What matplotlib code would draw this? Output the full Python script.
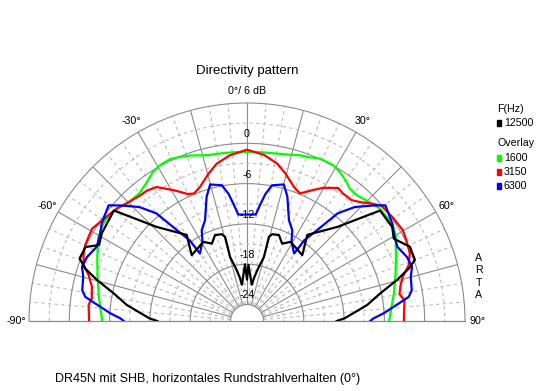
import numpy as np
import matplotlib.pyplot as plt
from matplotlib.patches import Rectangle

plt.rcParams['font.family'] = ['Liberation Sans', 'DejaVu Sans']

# angle (deg) / level (dB)
green_ang = [-90, -80.7, -73.5, -66.8, -60.4, -55.8, -51.8, -48.4, -45, -40.2,
             -36.3, -32.2, -29.2, -25.3, -22, -19, -13.1, -8, -4, 0,
             4, 8, 13, 17.7, 20.5, 24.2, 28.9, 31.9, 35.6, 37.8,
             41, 44.7, 49.7, 54, 56.1, 60, 67.8, 73.4, 79.3, 90]
green_db = [-4.9, -4.1, -3.25, -2.2, -1.05, -0.6, -0.55, -1.0, -1.5, -1.6,
            -1.05, -0.2, 0.1, 0.25, -0.1, -0.4, -1.1, -1.2, -1.25, -1.3,
            -1.25, -1.2, -1.0, -0.55, -0.4, 0.05, 0.05, -0.3, -1.0, -1.5,
            -1.6, -1.2, -0.55, -0.5, -0.4, -0.9, -2.5, -3.4, -4.2, -5.3]

red_ang = [-90, -84.2, -81.7, -77.5, -73.8, -71.1, -68, -64.9, -62, -59.2,
           -56, -52.6, -49.1, -45.6, -40.6, -37.3, -34, -29.2, -27.1, -25,
           -22.5, -19.3, -14.7, -10.9, -5.9, 0, 5.9, 10.9, 14.7, 19.3,
           22.5, 26.8, 29.8, 34.4, 37, 40.9, 44, 46.6, 49.3, 54.4,
           59.7, 63, 67.4, 71, 74, 77, 80, 82.5, 86, 90]
red_db = [-2.95, -2.75, -3.1, -2.8, -1.9, -0.75, -0.2, 0.15, 0.25, 0.4,
          -0.1, -0.5, -0.85, -1.4, -1.9, -2.0, -2.4, -4.15, -4.9, -5.6,
          -5.9, -5.3, -3.8, -2.6, -1.65, -0.95, -1.6, -2.6, -3.8, -5.3,
          -5.9, -4.6, -3.6, -2.45, -2.7, -2.65, -1.9, -1.0, -0.1, 0.15,
          0.4, 0.15, -0.2, -1.0, -2.3, -3.0, -3.4, -2.8, -3.0, -3.1]

blue_ang = [-90, -88.8, -86.8, -83.4, -81.5, -79.4, -74.9, -71.8, -68.2, -63.7,
            -59.2, -56.1, -50.1, -47.5, -43.4, -40.1, -37.7, -35.4, -34.9, -29.3,
            -26.5, -22.6, -18, -15.1, -10.5, -8.3, -6.6, -4.7, 0,
            4.7, 6.6, 8.3, 10.5, 15.1, 18, 22.6, 26.5, 29.3, 34.9,
            35.4, 37.7, 40.1, 43.4, 47.5, 50.1, 56.1, 59.2, 63.7, 68.2,
            71.8, 74.9, 79.4, 81.5, 83.4, 86.8, 88.8, 90]
blue_db = [-8.1, -7.6, -6.1, -3.7, -2.1, -1.5, -1.2, -0.6, -0.8, -1.5,
           -1.0, -0.4, 0.4, -1.0, -3.1, -5.5, -9.3, -11.7, -14.2, -12.9,
           -11.35, -10.2, -7.0, -5.4, -5.9, -7.3, -8.9, -10.55, -10.6,
           -10.55, -8.9, -7.3, -5.9, -5.4, -7.0, -10.2, -11.35, -12.9, -14.2,
           -11.7, -9.3, -5.5, -3.1, -1.0, 0.4, -0.4, -1.0, -1.5, -0.8,
           -0.6, -1.2, -1.5, -2.1, -3.7, -6.1, -7.6, -8.1]

black_ang = [-90, -88.4, -82.4, -78.3, -74.7, -72, -69.5, -65.4, -62.8, -58.9,
             -50.3, -46.9, -43.9, -35, -40, -28.9, -24.4, -20.4, -16.2, -14.6,
             -14.8, -12.4, -9.5, -8, -2, 0, 1.5, 7.5, 9.5, 12.4,
             14.8, 14.6, 16.2, 20.4, 24.4, 28.9, 40, 35, 43.9, 46.9,
             50.3, 57.1, 60.7, 65.5, 70, 72, 74.7, 78.3, 82.4, 88.4, 90]
black_db = [-13.1, -11.9, -8.4, -6.2, -3.3, -1.1, 0.15, 0.0, -1.7, -1.2,
            -0.7, -4.5, -7.0, -10.8, -13.65, -13.0, -13.8, -12.8, -13.0, -13.5,
            -16.6, -18.2, -19.8, -21.0, -18.0, -20.3, -18.1, -21.0, -19.8, -18.2,
            -16.6, -13.5, -13.0, -12.8, -13.8, -13.0, -13.65, -10.8, -7.0, -4.5,
            -0.7, -0.7, -1.4, 0.2, 0.15, -1.1, -3.3, -6.2, -8.4, -11.9, -13.1]

overlay_names = ['1600', '3150', '6300']
overlay_colors = ['#00ff00', '#ff0000', '#0000ff']
main_name = '12500'
main_color = '#000000'

r_levels = [0, -6, -12, -18, -24]
theta_labels = {-90: '-90°', -60: '-60°', -30: '-30°', 0: '0°/ 6 dB',
                30: '30°', 60: '60°', 90: '90°'}

W, H = 544, 391
fig = plt.figure(figsize=(W / 100, H / 100), dpi=100)
# half disc sits in the middle half of a square axes box (matplotlib keeps the wedge square)
ax = fig.add_axes([29 / W, -39 / H, 436 / W, 436 / H], projection='polar')
ax.set_theta_zero_location('N')
ax.set_theta_direction(-1)
ax.set_thetamin(-90)
ax.set_thetamax(90)
ax.set_rlim(-24, 6)
ax.set_rorigin(-26.45)

solid = '#8c8c8c'
dash = '#bdbdbd'
ax.set_xticks(np.deg2rad(np.arange(-90, 91, 15)))
ax.set_xticks(np.deg2rad([a for a in range(-85, 90, 5) if a % 15]), minor=True)
ax.set_yticks([0, -6, -12, -18])
ax.set_yticks([3, -3, -9, -15, -21], minor=True)
ax.set_xticklabels([])
ax.set_yticklabels([])
ax.tick_params(which='both', length=0)
ax.grid(True, which='major', color=solid, lw=0.8, ls='-')
ax.grid(True, which='minor', color=dash, lw=0.8, ls=(0, (3, 3)))
for s in ax.spines.values():
    s.set_color(solid)
    s.set_linewidth(0.8)
ax.plot([0, 1], [0.25, 0.25], transform=ax.transAxes, color=solid, lw=0.8, clip_on=False)

for ang, db, c in zip([green_ang, red_ang, blue_ang], [green_db, red_db, blue_db], overlay_colors):
    ax.plot(np.deg2rad(ang), db, color=c, lw=1.6, zorder=3)
ax.plot(np.deg2rad(black_ang), black_db, color=main_color, lw=1.6, zorder=4)

fs = 7.7
for lv in r_levels:
    ax.text(0, lv + 1.35, str(lv), ha='center', va='center', fontsize=fs, zorder=5)
for a, t in theta_labels.items():
    ax.text(np.deg2rad(a), 7.86, t, ha='center', va='center', fontsize=fs)


def ftext(x, y, s, **kw):
    fig.text(x / W, 1 - y / H, s, **kw)


ftext(247, 71, 'Directivity pattern', ha='center', va='center', fontsize=9.5)
ftext(55, 379, 'DR45N mit SHB, horizontales Rundstrahlverhalten (0°)',
      ha='left', va='center', fontsize=9)

ftext(497, 109, 'F(Hz)', ha='left', va='center', fontsize=fs)
ftext(497, 143, 'Overlay', ha='left', va='center', fontsize=fs)
rows = [(123, main_name, main_color)] + [(y, n, c) for y, n, c in
                                         zip([158, 172, 186], overlay_names, overlay_colors)]
for y, n, c in rows:
    fig.patches.append(Rectangle((497 / W, 1 - (y + 3) / H), 4 / W, 6 / H,
                                 transform=fig.transFigure, color=c, figure=fig))
    ftext(504, y, n, ha='left', va='center', fontsize=fs)

for i, ch in enumerate('ARTA'):
    ftext(479, 258 + i * 12.3, ch, ha='center', va='center', fontsize=fs)

fig.savefig('out.png', dpi=100)
